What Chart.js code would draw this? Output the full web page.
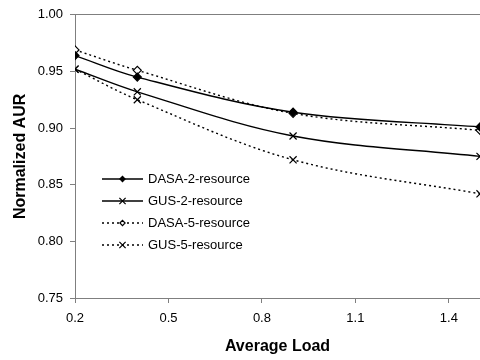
<!DOCTYPE html>
<html>
<head>
<meta charset="utf-8">
<script src="https://cdn.jsdelivr.net/npm/chart.js@4/dist/chart.umd.min.js"></script>
<style>
  html, body { margin: 0; padding: 0; background: #fff; }
  #wrap { width: 480px; height: 360px; }
</style>
</head>
<body>
<div id="wrap"><canvas id="aurChart" width="480" height="360"></canvas></div>
<script>
// average load on the x axis, normalized AUR per scheme
const loads = [0.2, 0.4, 0.9, 1.5];
const dasa2 = [0.964, 0.945, 0.914, 0.901];
const gus2  = [0.952, 0.932, 0.893, 0.875];
const dasa5 = [0.969, 0.951, 0.913, 0.898];
const gus5  = [0.952, 0.925, 0.872, 0.842];

const seriesNames = ['DASA-2-resource', 'GUS-2-resource', 'DASA-5-resource', 'GUS-5-resource'];
const xTicks = [0.2, 0.5, 0.8, 1.1, 1.4];

const axisGrey = '#7f7f7f';
const font = 'Liberation Sans, Arial, sans-serif';
const dotted = [2, 3];

function pts(vals) {
  return vals.map((v, i) => ({ x: loads[i], y: v }));
}

const styles = [
  { dash: [], point: 'rectRot', fill: '#000', r: 4, legendR: 2.6 },
  { dash: [], point: 'crossRot', fill: '#000', r: 5, legendR: 4.4 },
  { dash: dotted, point: 'rectRot', fill: '#fff', r: 4, legendR: 2.6 },
  { dash: dotted, point: 'crossRot', fill: '#000', r: 5, legendR: 4.4 }
];

const datasets = [dasa2, gus2, dasa5, gus5].map((vals, i) => ({
  label: seriesNames[i],
  data: pts(vals),
  borderColor: '#000',
  borderWidth: 1.4,
  borderDash: styles[i].dash,
  tension: 0.35,
  pointStyle: styles[i].point,
  pointRadius: styles[i].r,
  pointBackgroundColor: styles[i].fill,
  pointBorderColor: '#000',
  pointBorderWidth: 1.2,
  fill: false
}));

// legend drawn inside the plot, Excel style
const innerLegend = {
  id: 'innerLegend',
  afterDraw(chart) {
    const c = chart.ctx;
    const x0 = 102, x1 = 143, textX = 148;
    const rows = [179, 201, 223, 245];
    c.save();
    seriesNames.forEach((name, i) => {
      const y = rows[i];
      c.strokeStyle = '#000';
      c.lineWidth = 1.4;
      c.setLineDash(styles[i].dash);
      c.beginPath();
      c.moveTo(x0, y);
      c.lineTo(x1, y);
      c.stroke();
      c.setLineDash([]);
      c.fillStyle = styles[i].fill;
      c.lineWidth = 1.2;
      Chart.helpers.drawPoint(c, {
        pointStyle: styles[i].point,
        radius: styles[i].legendR,
        rotation: 0,
        borderWidth: 1.2
      }, (x0 + x1) / 2, y);
      c.fillStyle = '#000';
      c.font = '13px ' + font;
      c.textAlign = 'left';
      c.textBaseline = 'middle';
      c.fillText(name, textX, y);
    });
    c.restore();
  }
};

new Chart(document.getElementById('aurChart'), {
  type: 'line',
  data: { datasets: datasets },
  plugins: [innerLegend],
  options: {
    responsive: false,
    animation: false,
    // plot runs to the right edge of the canvas, markers there get cut
    layout: { autoPadding: false, padding: { top: 11, right: 0, left: 0, bottom: 0 } },
    plugins: {
      legend: { display: false },
      tooltip: { enabled: false }
    },
    scales: {
      x: {
        type: 'linear',
        min: 0.2,
        max: 1.5,
        afterBuildTicks: (scale) => { scale.ticks = xTicks.map(v => ({ value: v })); },
        afterFit: (scale) => {
          scale.height = 62;
          scale.paddingRight = 0;
          scale.paddingLeft = 0;
        },
        grid: { drawOnChartArea: false, tickLength: 5, tickColor: axisGrey },
        border: { color: axisGrey, width: 1 },
        ticks: {
          color: '#000',
          font: { family: font, size: 13 },
          padding: 8,
          maxRotation: 0,
          callback: (v) => v.toFixed(1)
        },
        title: {
          display: true,
          text: 'Average Load',
          color: '#000',
          font: { family: font, size: 16, weight: 'bold' },
          padding: { top: 0, bottom: 4 }
        }
      },
      y: {
        min: 0.75,
        max: 1.0,
        afterFit: (scale) => { scale.width = 75; },
        grid: {
          tickLength: 5,
          tickColor: axisGrey,
          color: (ctx) => (ctx.tick && Math.abs(ctx.tick.value - 1) < 1e-9) ? axisGrey : 'transparent'
        },
        border: { color: axisGrey, width: 1 },
        ticks: {
          stepSize: 0.05,
          color: '#000',
          font: { family: font, size: 13 },
          padding: 7,
          callback: (v) => v.toFixed(2)
        },
        title: {
          display: true,
          text: 'Normalized AUR',
          color: '#000',
          font: { family: font, size: 16, weight: 'bold' },
          padding: { top: 11, bottom: 0 }
        }
      }
    }
  }
});
</script>
</body>
</html>
